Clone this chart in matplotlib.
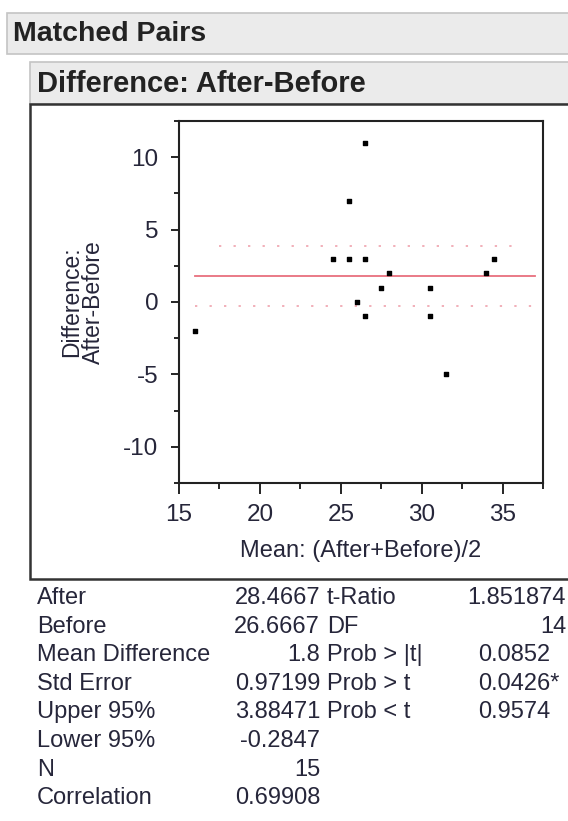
import matplotlib
matplotlib.use("Agg")
import matplotlib.pyplot as plt
from matplotlib.patches import Rectangle

plt.rcParams['font.family'] = ['Liberation Sans', 'DejaVu Sans']
plt.rcParams['axes.unicode_minus'] = False

# data
mean_ab = [16, 24.5, 25.5, 26.5, 25.5, 26.5, 26, 26.5, 27.5, 28, 30.5, 30.5, 31.5, 34, 34.5]
diff_ab = [-2, 3, 3, 3, 7, 11, 0, -1, 1, 2, 1, -1, -5, 2, 3]
mean_diff = 1.8
upper95 = 3.88471
lower95 = -0.2847
xticks = [15, 20, 25, 30, 35]
yticks = [-10, -5, 0, 5, 10]

left_labels = ["After", "Before", "Mean Difference", "Std Error",
               "Upper 95%", "Lower 95%", "N", "Correlation"]
left_values = ["28.4667", "26.6667", "1.8", "0.97199",
               "3.88471", "-0.2847", "15", "0.69908"]
right_labels = ["t-Ratio", "DF", "Prob > |t|", "Prob > t", "Prob < t"]
right_values = ["1.851874", "14", "0.0852", "0.0426*", "0.9574"]

W, H = 568, 821
txt = '#26263a'
fig = plt.figure(figsize=(W / 100, H / 100), dpi=100)

# background layer in pixel coordinates
bg = fig.add_axes([0, 0, 1, 1])
bg.set_xlim(0, W)
bg.set_ylim(H, 0)
bg.axis('off')

bg.add_patch(Rectangle((7, 13), 570, 41, facecolor='#ebebeb', edgecolor='#c4c4c4', lw=1.2))
bg.text(13, 34, "Matched Pairs", fontsize=20.5, fontweight='bold', color='#222222', va='center')
bg.add_patch(Rectangle((30, 62), 570, 42, facecolor='#ebebeb', edgecolor='#c4c4c4', lw=1.2))
bg.text(37, 84, "Difference: After-Before", fontsize=21, fontweight='bold', color='#222222', va='center')
bg.add_patch(Rectangle((30, 104), 570, 475, facecolor='white', edgecolor='#333333', lw=1.8))

# statistics table
row0, dy = 598, 28.6
fs = 17
for i, (lab, val) in enumerate(zip(left_labels, left_values)):
    y = row0 + i * dy
    bg.text(37, y, lab, fontsize=fs, color=txt, va='center')
    bg.text(320, y, val, fontsize=fs, color=txt, va='center', ha='right')
for i, (lab, val) in enumerate(zip(right_labels, right_values)):
    y = row0 + i * dy
    bg.text(327, y, lab, fontsize=fs, color=txt, va='center')
    if lab.startswith("Prob"):
        bg.text(478, y, val, fontsize=fs, color=txt, va='center', ha='left')
    else:
        bg.text(566, y, val, fontsize=fs, color=txt, va='center', ha='right')

# the plot
ax = fig.add_axes([179 / W, 1 - 483 / H, (543 - 179) / W, (483 - 121) / H])
ax.set_xlim(15, 37.5)
ax.set_ylim(-12.5, 12.5)
ax.scatter(mean_ab, diff_ab, s=5, marker='s', color='black', zorder=3)
ax.plot([min(mean_ab), 37], [mean_diff, mean_diff], color='#e8707e', lw=1.3)
ax.plot([17.5, 36], [upper95, upper95], color='#ee9aa6', lw=1.1, ls=(0, (1.5, 8)))
ax.plot([min(mean_ab), 37.5], [lower95, lower95], color='#ee9aa6', lw=1.1, ls=(0, (1.5, 8)))

ax.set_xticks(xticks)
ax.set_yticks(yticks)
ax.set_xticks([17.5, 22.5, 27.5, 32.5, 37.5], minor=True)
ax.set_yticks([-12.5, -7.5, -2.5, 2.5, 7.5, 12.5], minor=True)
ax.tick_params(axis='x', which='major', length=8, width=1.2, pad=7, labelsize=17.5, labelcolor=txt)
ax.tick_params(axis='x', which='minor', length=4.5, width=1.2)
ax.tick_params(axis='y', which='major', length=6, width=1.2, pad=9, labelsize=17.5, labelcolor=txt)
ax.tick_params(axis='y', which='minor', length=3.5, width=1.2)
for sp in ax.spines.values():
    sp.set_linewidth(1.5)
    sp.set_color('#222222')

ax.set_xlabel("Mean: (After+Before)/2", fontsize=17, color=txt, labelpad=10)
ax.set_ylabel("Difference:\nAfter-Before", fontsize=16.5, color=txt, labelpad=13, linespacing=0.95)

fig.savefig("out.png", dpi=100)
